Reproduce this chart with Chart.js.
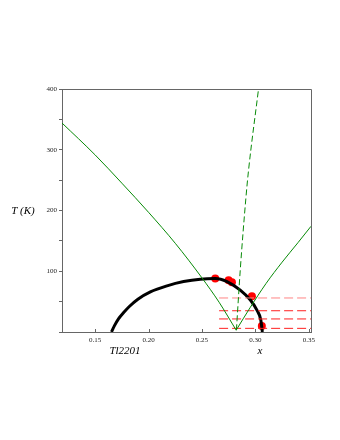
<!DOCTYPE html>
<html>
<head>
<meta charset="utf-8">
<script src="https://cdn.jsdelivr.net/npm/chart.js@4"></script>
<style>
html,body{margin:0;padding:0;background:#fff;}
#wrap{width:340px;height:440px;position:relative;}
</style>
</head>
<body>
<div id="wrap"><canvas id="c" width="340" height="440"></canvas></div>
<script>
// ---- data ----
const xTicks = [0.15, 0.20, 0.25, 0.30, 0.35];
const yTicks = [0, 50, 100, 150, 200, 250, 300, 350, 400];
const yLabelled = [100, 200, 300, 400];

const greenLeftX = [0.119, 0.150, 0.175, 0.200, 0.225, 0.250, 0.266, 0.282];
const greenLeftT = [344, 291.5, 245, 197, 146, 89, 49, 3];

const greenRightX = [0.282, 0.295, 0.310, 0.325, 0.340, 0.352];
const greenRightT = [3, 40, 80, 115, 147.5, 174];

const greenDashX = [0.2822, 0.2858, 0.2911, 0.2936, 0.3029];
const greenDashT = [3, 102, 221, 267, 400];

const domeX = [0.1653, 0.1680, 0.1720, 0.1767, 0.1820, 0.1900, 0.2017, 0.2173, 0.2328, 0.2484, 0.2624, 0.2734, 0.2858, 0.2951, 0.3014, 0.3050, 0.3065];
const domeT = [0, 10, 22, 32, 42, 54, 66, 76, 83, 87, 88, 83, 69, 53, 36, 20, 0];

const redX = [0.2624, 0.2749, 0.2780, 0.2967, 0.3060];
const redT = [88, 85, 82, 59, 10];

const hLineStart = 0.266;
const hLineEnd = 0.352;
const hLineT = [56, 35, 21.5, 6];

// ---- build datasets ----
const pts = (xs, ys) => xs.map((x, i) => ({x: x, y: ys[i]}));
const GREEN = '#078a07';

const datasets = [];
datasets.push({data: pts(greenLeftX, greenLeftT), borderColor: GREEN, borderWidth: 1, showLine: true, pointRadius: 0, cubicInterpolationMode: 'monotone'});
datasets.push({data: pts(greenRightX, greenRightT), borderColor: GREEN, borderWidth: 1, showLine: true, pointRadius: 0, cubicInterpolationMode: 'monotone'});
datasets.push({data: pts(greenDashX, greenDashT), borderColor: GREEN, borderWidth: 1, borderDash: [6, 3], showLine: true, pointRadius: 0, cubicInterpolationMode: 'monotone'});
hLineT.forEach((t, i) => {
  datasets.push({data: pts([hLineStart, hLineEnd], [t, t]), borderColor: i === 0 ? '#ff8585' : '#ff2020', borderWidth: 1, borderDash: [9, 4], showLine: true, pointRadius: 0});
});
datasets.push({data: pts(domeX, domeT), borderColor: '#000', borderWidth: 3, showLine: true, pointRadius: 0, cubicInterpolationMode: 'monotone'});
datasets.push({data: pts(redX, redT), borderColor: '#ff0000', backgroundColor: '#ff0000', showLine: false, pointRadius: 4, pointBorderWidth: 0});

const AXIS = '#666';

const extras = {
  id: 'extras',
  afterDatasetsDraw(chart) {
    const ctx = chart.ctx, a = chart.chartArea;
    const xs = chart.scales.x;
    ctx.save();
    ctx.strokeStyle = AXIS;
    ctx.lineWidth = 1;
    ctx.beginPath();
    ctx.moveTo(a.left, a.top + 0.5);
    ctx.lineTo(a.right + 0.5, a.top + 0.5);
    ctx.lineTo(a.right + 0.5, a.bottom);
    ctx.stroke();
    // inward x ticks
    ctx.beginPath();
    xTicks.forEach(v => {
      const px = Math.round(xs.getPixelForValue(v)) + 0.5;
      ctx.moveTo(px, a.bottom);
      ctx.lineTo(px, a.bottom - 3);
    });
    ctx.stroke();
    ctx.restore();
  },
  afterDraw(chart) {
    const ctx = chart.ctx;
    ctx.save();
    ctx.fillStyle = '#000';
    ctx.font = 'italic 11px "Liberation Serif"';
    ctx.textAlign = 'center';
    ctx.textBaseline = 'middle';
    ctx.fillText('T (K)', 23, 211);
    ctx.fillText('Tl2201', 125, 351);
    ctx.fillText('x', 260, 351);
    ctx.restore();
  }
};

new Chart(document.getElementById('c'), {
  type: 'scatter',
  data: {datasets: datasets},
  options: {
    responsive: false,
    animation: false,
    devicePixelRatio: 1,
    layout: {padding: {left: 0, top: 89, right: 29, bottom: 88}},
    plugins: {legend: {display: false}, tooltip: {enabled: false}},
    scales: {
      x: {
        type: 'linear', min: 0.119, max: 0.352,
        afterFit(s) { s.height = 20; },
        afterBuildTicks(s) { s.ticks = xTicks.map(v => ({value: v})); },
        grid: {display: false, drawTicks: false},
        border: {display: true, color: AXIS, width: 1},
        ticks: {
          padding: 4, maxRotation: 0, autoSkip: false,
          color: '#222', font: {family: 'Liberation Serif', size: 7},
          callback: v => v.toFixed(2)
        }
      },
      y: {
        type: 'linear', min: 0, max: 400,
        afterFit(s) { s.width = 62; },
        afterBuildTicks(s) { s.ticks = yTicks.map(v => ({value: v})); },
        grid: {display: true, drawOnChartArea: false, drawTicks: true, tickLength: 3, color: AXIS},
        border: {display: true, color: AXIS, width: 1},
        ticks: {
          padding: 2, autoSkip: false,
          color: '#222', font: {family: 'Liberation Serif', size: 7},
          callback: v => yLabelled.includes(v) ? String(v) : ''
        }
      }
    }
  },
  plugins: [extras]
});
</script>
</body>
</html>
